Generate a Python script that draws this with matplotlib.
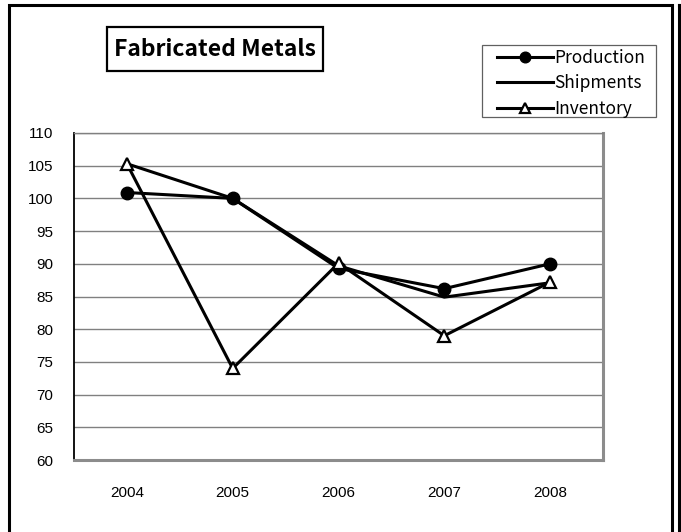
import matplotlib
matplotlib.use("Agg")
import matplotlib.pyplot as plt
from matplotlib.patches import Rectangle
from matplotlib.lines import Line2D

years = ["2004", "2005", "2006", "2007", "2008"]
production = [100.9, 100.0, 89.3, 86.2, 90.0]
shipments = [105.3, 100.0, 89.7, 84.9, 87.1]
inventory = [105.3, 74.0, 90.1, 79.0, 87.2]
y_ticks = [60, 65, 70, 75, 80, 85, 90, 95, 100, 105, 110]

W, H = 681, 532
jp_font = ["Noto Sans CJK JP", "DejaVu Sans"]


def plot_fabricated_metals():
    fig = plt.figure(figsize=(W / 100, H / 100), dpi=100)
    ax = fig.add_axes([74 / W, 1 - 460 / H, (603 - 74) / W, (460 - 133) / H])

    x = range(len(years))
    ax.plot(x, production, color='black', linewidth=2.2, marker='o',
            markersize=9, label='Production', zorder=4)
    ax.plot(x, shipments, color='black', linewidth=2.2, label='Shipments', zorder=3)
    ax.plot(x, inventory, color='black', linewidth=2.2, marker='^',
            markersize=9, markerfacecolor='white', markeredgecolor='black',
            markeredgewidth=1.6, label='Inventory', zorder=5)

    ax.set_xlim(-0.5, len(years) - 0.5)
    ax.set_ylim(60, 110)
    ax.set_xticks(list(x))
    ax.set_xticklabels(years)
    ax.set_yticks(y_ticks)
    ax.tick_params(length=0, labelsize=11)
    ax.tick_params(axis='y', pad=15)
    ax.tick_params(axis='x', pad=19)
    for lab in ax.get_xticklabels() + ax.get_yticklabels():
        lab.set_fontfamily('Liberation Sans')

    ax.grid(axis='y', color='#808080', linewidth=1.0)
    ax.set_axisbelow(True)
    ax.spines['left'].set_color('black')
    ax.spines['left'].set_linewidth(1.3)
    ax.spines['top'].set_color('#808080')
    ax.spines['top'].set_linewidth(1.0)
    for side in ['right', 'bottom']:
        ax.spines[side].set_color('#8c8c8c')
        ax.spines[side].set_linewidth(2.2)

    # title box
    fig.patches.append(Rectangle((107 / W, 1 - 71 / H), (323 - 107) / W, (71 - 27) / H,
                                 transform=fig.transFigure, fill=False,
                                 edgecolor='black', linewidth=1.6))
    fig.text(215 / W, 1 - 50 / H, 'Fabricated Metals', ha='center', va='center',
             fontsize=16.5, fontweight='bold', family=jp_font)

    # legend: frame drawn separately so the side padding can differ from the top
    fig.legend(loc='upper left', bbox_to_anchor=(497 / W, 1 - 49 / H),
               borderaxespad=0, frameon=False, handlelength=3.2,
               handletextpad=0.1, labelspacing=0.43, borderpad=0.0,
               markerscale=0.85, prop={'family': jp_font, 'size': 12.5})
    fig.patches.append(Rectangle((482 / W, 1 - 117 / H), (656 - 482) / W, (117 - 45) / H,
                                 transform=fig.transFigure, fill=False,
                                 edgecolor='#606060', linewidth=0.9))

    # outer frame
    fig.patches.append(Rectangle((9 / W, -0.05), (672 - 9) / W, 1.05 - 5 / H,
                                 transform=fig.transFigure, fill=False,
                                 edgecolor='black', linewidth=2.2))
    fig.lines.append(Line2D([679 / W, 679 / W], [0, 1 - 5 / H],
                            transform=fig.transFigure, color='black', linewidth=2.2))
    fig.lines.append(Line2D([679 / W, 1], [1 - 5 / H, 1 - 5 / H],
                            transform=fig.transFigure, color='black', linewidth=2.2))

    fig.savefig("out.png", dpi=100)


def main():
    plot_fabricated_metals()


if __name__ == "__main__":
    main()
